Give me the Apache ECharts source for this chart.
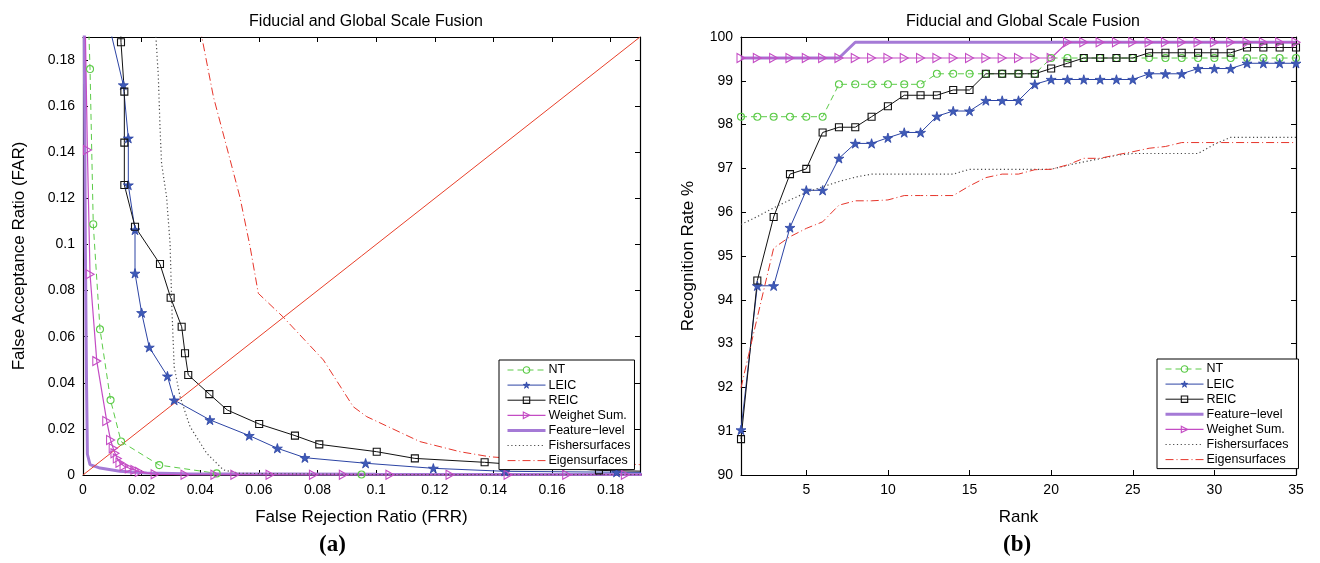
<!DOCTYPE html>
<html>
<head>
<meta charset="utf-8">
<script src="https://cdn.jsdelivr.net/npm/echarts@6/dist/echarts.min.js"></script>
<style>
html,body{margin:0;padding:0;background:#fff;}
#chart{width:1320px;height:563px;}
</style>
</head>
<body>
<div id="chart"></div>
<script>
// ---------------- DATA ----------------
// (a) ROC curves: False Rejection Ratio (x) vs False Acceptance Ratio (y)
const rocTicks = [0, 0.02, 0.04, 0.06, 0.08, 0.1, 0.12, 0.14, 0.16, 0.18];

const ntFRR = [0.0018, 0.0024, 0.0035, 0.0058, 0.0094, 0.013, 0.026, 0.0456, 0.095, 0.21];
const ntFAR = [0.2, 0.1761, 0.1088, 0.0632, 0.0325, 0.0145, 0.0043, 0.0007, 0.0002, 0.0001];

const leicFRR = [0.008, 0.01375, 0.01546, 0.01546, 0.01774, 0.01774, 0.02, 0.0226, 0.0288, 0.0311, 0.0433, 0.0567, 0.0663, 0.0757, 0.0964, 0.1195, 0.1439, 0.182, 0.21];
const leicFAR = [0.2, 0.1692, 0.1461, 0.1258, 0.1063, 0.0875, 0.0704, 0.0554, 0.0429, 0.0325, 0.0239, 0.0171, 0.0116, 0.0075, 0.0051, 0.0029, 0.0016, 0.0012, 0.001];

const reicFRR = [0.0128, 0.01296, 0.0141, 0.0141, 0.0141, 0.01774, 0.02626, 0.0299, 0.03366, 0.0348, 0.0359, 0.0431, 0.0492, 0.0601, 0.0723, 0.0806, 0.1002, 0.1132, 0.137, 0.176, 0.21];
const reicFAR = [0.2, 0.1877, 0.1663, 0.1442, 0.1258, 0.1077, 0.0915, 0.0769, 0.0643, 0.0528, 0.0434, 0.0351, 0.0282, 0.0221, 0.0171, 0.0133, 0.0101, 0.0072, 0.0055, 0.002, 0.0012];

const wsumFRR = [0.0007, 0.0015, 0.0024, 0.0047, 0.0081, 0.0094, 0.0103, 0.0109, 0.0117, 0.0126, 0.014, 0.0158, 0.0177, 0.0192, 0.0246, 0.0348, 0.045, 0.0518, 0.0638, 0.0786, 0.0888, 0.1047, 0.1252, 0.145, 0.165, 0.185, 0.21];
const wsumFAR = [0.2, 0.141, 0.0871, 0.0494, 0.0234, 0.0152, 0.0116, 0.0094, 0.0072, 0.0053, 0.0039, 0.0029, 0.0022, 0.0014, 0.0003, 0.0001, 0.0001, 0.0001, 0.0001, 0.0001, 0.0001, 0.0001, 0.0001, 0.0001, 0.0001, 0.0001, 0.0001];

const featFRR = [0.0004, 0.0008, 0.0012, 0.0014, 0.0015, 0.0024, 0.0058, 0.0126, 0.0217, 0.035, 0.1, 0.21];
const featFAR = [0.2, 0.1, 0.04, 0.02, 0.009, 0.0045, 0.003, 0.0016, 0.0009, 0.0005, 0.0003, 0.0002];

const fishFRR = [0.0244, 0.0257, 0.0263, 0.0268, 0.0285, 0.0297, 0.0303, 0.0311, 0.0331, 0.0365, 0.0422, 0.0479, 0.0535, 0.1, 0.21];
const fishFAR = [0.2, 0.1728, 0.1497, 0.1352, 0.1207, 0.1005, 0.073, 0.047, 0.034, 0.021, 0.0094, 0.0022, 0.0007, 0.0002, 0.0001];

const eigFRR = [0.039, 0.0445, 0.049, 0.0535, 0.057, 0.0598, 0.0683, 0.082, 0.0922, 0.0968, 0.1149, 0.1286, 0.1388, 0.16, 0.19];
const eigFAR = [0.2, 0.164, 0.1424, 0.1207, 0.099, 0.0788, 0.0685, 0.0499, 0.0296, 0.0253, 0.0145, 0.0101, 0.0079, 0.006, 0.0045];

const eerLine = [0, 0.19];

// (b) CMC curves: recognition rate (%) by rank
const ranks = [1,2,3,4,5,6,7,8,9,10,11,12,13,14,15,16,17,18,19,20,21,22,23,24,25,26,27,28,29,30,31,32,33,34,35];
const rankTicks = [5, 10, 15, 20, 25, 30, 35];
const rateTicks = [90, 91, 92, 93, 94, 95, 96, 97, 98, 99, 100];

const rateNT = [98.18,98.18,98.18,98.18,98.18,98.18,98.92,98.92,98.92,98.92,98.92,98.92,99.16,99.16,99.16,99.16,99.16,99.16,99.16,99.52,99.52,99.52,99.52,99.52,99.52,99.52,99.52,99.52,99.52,99.52,99.52,99.52,99.52,99.52,99.52];
const rateLEIC = [91.03,94.32,94.32,95.65,96.5,96.5,97.23,97.57,97.57,97.7,97.82,97.82,98.19,98.31,98.31,98.55,98.55,98.55,98.92,99.03,99.03,99.03,99.03,99.03,99.03,99.16,99.16,99.16,99.28,99.28,99.28,99.4,99.4,99.4,99.4];
const rateREIC = [90.82,94.44,95.89,96.87,96.99,97.82,97.94,97.94,98.18,98.42,98.67,98.67,98.67,98.79,98.79,99.16,99.16,99.16,99.16,99.28,99.4,99.52,99.52,99.52,99.52,99.64,99.64,99.64,99.64,99.64,99.64,99.76,99.76,99.76,99.76];
const rateFeat = [99.52,99.52,99.52,99.52,99.52,99.52,99.52,99.88,99.88,99.88,99.88,99.88,99.88,99.88,99.88,99.88,99.88,99.88,99.88,99.88,99.88,99.88,99.88,99.88,99.88,99.88,99.88,99.88,99.88,99.88,99.88,99.88,99.88,99.88,99.88];
const rateWSum = [99.52,99.52,99.52,99.52,99.52,99.52,99.52,99.52,99.52,99.52,99.52,99.52,99.52,99.52,99.52,99.52,99.52,99.52,99.52,99.52,99.88,99.88,99.88,99.88,99.88,99.88,99.88,99.88,99.88,99.88,99.88,99.88,99.88,99.88,99.88];
const rateFish = [95.72,95.9,96.1,96.28,96.45,96.58,96.7,96.8,96.87,96.87,96.87,96.87,96.87,96.87,96.98,96.98,96.98,96.98,96.98,96.98,97.07,97.15,97.22,97.3,97.34,97.34,97.34,97.34,97.34,97.55,97.71,97.71,97.71,97.71,97.71];
const rateEig = [91.99,93.6,95.18,95.44,95.63,95.78,96.16,96.26,96.26,96.28,96.38,96.38,96.38,96.38,96.6,96.79,96.87,96.87,96.97,96.98,97.08,97.23,97.23,97.31,97.38,97.46,97.5,97.59,97.59,97.59,97.59,97.59,97.59,97.59,97.59];

const legendA = ['NT', 'LEIC', 'REIC', 'Weighet Sum.', 'Feature\u2212level', 'Fishersurfaces', 'Eigensurfaces'];
const legendB = ['NT', 'LEIC', 'REIC', 'Feature\u2212level', 'Weighet Sum.', 'Fishersurfaces', 'Eigensurfaces'];

// ---------------- STYLES ----------------
const FONT = '"Liberation Sans", Arial, Helvetica, sans-serif';
const STAR = 'path://M50,0 L61,35 L98,35 L68,57 L79,91 L50,70 L21,91 L32,57 L2,35 L39,35 Z';
const TRI_R = 'path://M0,0 L10,5 L0,10 Z';
const styles = {
  'NT': {color: '#5ccb48', width: 1, type: [6, 4], symbol: 'circle', size: 7, hollow: true},
  'LEIC': {color: '#2c44a4', width: 1, type: 'solid', symbol: STAR, size: 10, hollow: false, fill: '#3f5bb8'},
  'REIC': {color: '#111111', width: 1, type: 'solid', symbol: 'rect', size: 7, hollow: true},
  'Weighet Sum.': {color: '#c44cc4', width: 1.2, type: 'solid', symbol: TRI_R, size: [8, 9], hollow: true},
  'Feature\u2212level': {color: '#a57ad6', width: 3, type: 'solid', symbol: 'none'},
  'Fishersurfaces': {color: '#4a4a4a', width: 1.2, type: [1.2, 2.6], symbol: 'none'},
  'Eigensurfaces': {color: '#e6352a', width: 1, type: [8, 3, 1, 3], symbol: 'none'}
};

function zip(a, b) { return a.map((v, i) => [v, b[i]]); }

function symStyle(s) {
  if (s.symbol === 'none') return {color: s.color, opacity: 0};
  if (s.hollow) return {color: 'rgba(255,255,255,0)', borderColor: s.color, borderWidth: 1.1};
  return {color: s.fill, borderColor: s.color, borderWidth: 0.8};
}

function mkSeries(name, data, xi, yi) {
  const s = styles[name];
  return {
    name: name, type: 'line', xAxisIndex: xi, yAxisIndex: yi, data: data,
    clip: true, animation: false, silent: true,
    lineStyle: {color: s.color, width: s.width, type: s.type},
    symbol: s.symbol === 'none' ? 'circle' : s.symbol,
    symbolSize: s.size || 1, showSymbol: s.symbol !== 'none',
    symbolKeepAspect: true,
    itemStyle: symStyle(s),
    emphasis: {disabled: true}
  };
}

function valAxis(grid, pos, min, max, ticks, showLabel, fmt, name, nameGap) {
  return {
    type: 'value', gridIndex: grid, position: pos, min: min, max: max,
    axisLine: {show: true, onZero: false, lineStyle: {color: '#000', width: 1.2}},
    axisTick: {show: true, inside: true, length: 5, customValues: ticks, lineStyle: {color: '#000', width: 1}},
    axisLabel: {show: showLabel, customValues: ticks, color: '#000', fontSize: 14, fontFamily: FONT, margin: 8,
                formatter: fmt},
    splitLine: {show: false},
    name: name || '', nameLocation: 'middle', nameGap: nameGap || 0,
    nameTextStyle: {color: '#000', fontSize: 17, fontFamily: FONT}
  };
}
const fmtRoc = v => String(+(+v).toFixed(2));
const fmtInt = v => String(Math.round(v));

const xAxes = [
  valAxis(0, 'bottom', 0, 0.19, rocTicks, true, fmtRoc, 'False Rejection Ratio (FRR)', 34),
  valAxis(0, 'top', 0, 0.19, rocTicks, false, fmtRoc),
  valAxis(1, 'bottom', 1, 35, rankTicks, true, fmtInt, 'Rank', 34),
  valAxis(1, 'top', 1, 35, rankTicks, false, fmtInt)
];
const yAxes = [
  valAxis(0, 'left', 0, 0.19, rocTicks, true, fmtRoc, 'False Acceptance Ratio (FAR)', 55),
  valAxis(0, 'right', 0, 0.19, rocTicks, false, fmtRoc),
  valAxis(1, 'left', 90, 100, rateTicks, true, fmtInt, 'Recognition Rate %', 44),
  valAxis(1, 'right', 90, 100, rateTicks, false, fmtInt)
];

const series = [
  mkSeries('NT', zip(ntFRR, ntFAR), 0, 0),
  mkSeries('LEIC', zip(leicFRR, leicFAR), 0, 0),
  mkSeries('REIC', zip(reicFRR, reicFAR), 0, 0),
  mkSeries('Feature\u2212level', zip(featFRR, featFAR), 0, 0),
  mkSeries('Weighet Sum.', zip(wsumFRR, wsumFAR), 0, 0),
  mkSeries('Fishersurfaces', zip(fishFRR, fishFAR), 0, 0),
  mkSeries('Eigensurfaces', zip(eigFRR, eigFAR), 0, 0),
  {type: 'line', xAxisIndex: 0, yAxisIndex: 0, data: zip(eerLine, eerLine), symbol: 'none', silent: true,
   animation: false, lineStyle: {color: '#e8402a', width: 1}, clip: true},
  mkSeries('NT', zip(ranks, rateNT), 2, 2),
  mkSeries('LEIC', zip(ranks, rateLEIC), 2, 2),
  mkSeries('REIC', zip(ranks, rateREIC), 2, 2),
  mkSeries('Feature\u2212level', zip(ranks, rateFeat), 2, 2),
  mkSeries('Weighet Sum.', zip(ranks, rateWSum), 2, 2),
  mkSeries('Fishersurfaces', zip(ranks, rateFish), 2, 2),
  mkSeries('Eigensurfaces', zip(ranks, rateEig), 2, 2)
];

function legendItem(name) {
  const s = styles[name];
  return {
    name: name,
    itemStyle: symStyle(s),
    lineStyle: {color: s.color, width: s.width, type: s.type}
  };
}

function mkLegend(names, left, top, padRight) {
  return {
    data: names.map(legendItem), orient: 'vertical', left: left, top: top,
    backgroundColor: '#fff', borderColor: '#000', borderWidth: 1,
    padding: [3, padRight, 2, 7], itemGap: 1.1, itemWidth: 38, itemHeight: 8,
    selectedMode: false,
    textStyle: {color: '#000', fontSize: 12.5, fontFamily: FONT, padding: [0, 0, 0, -2], lineHeight: 14}
  };
}

const option = {
  backgroundColor: '#fff',
  animation: false,
  title: [
    {text: 'Fiducial and Global Scale Fusion', left: 361, top: 9, textAlign: 'center',
     textStyle: {color: '#000', fontSize: 16, fontWeight: 'normal', fontFamily: FONT}},
    {text: 'Fiducial and Global Scale Fusion', left: 1018, top: 9, textAlign: 'center',
     textStyle: {color: '#000', fontSize: 16, fontWeight: 'normal', fontFamily: FONT}}
  ],
  grid: [
    {left: 83, top: 37, width: 557, height: 438, containLabel: false},
    {left: 741, top: 37, width: 555, height: 438, containLabel: false}
  ],
  xAxis: xAxes,
  yAxis: yAxes,
  legend: [mkLegend(legendA, 499, 360, 4), mkLegend(legendB, 1157, 359, 10)],
  graphic: [
    {type: 'text', left: 319, top: 534, style: {text: '(a)', font: 'bold 23px "Liberation Serif", "Times New Roman", serif', fill: '#000'}},
    {type: 'text', left: 1003, top: 534, style: {text: '(b)', font: 'bold 23px "Liberation Serif", "Times New Roman", serif', fill: '#000'}}
  ],
  series: series
};

const chart = echarts.init(document.getElementById('chart'), null, {renderer: 'canvas'});
chart.setOption(option);
</script>
</body>
</html>
